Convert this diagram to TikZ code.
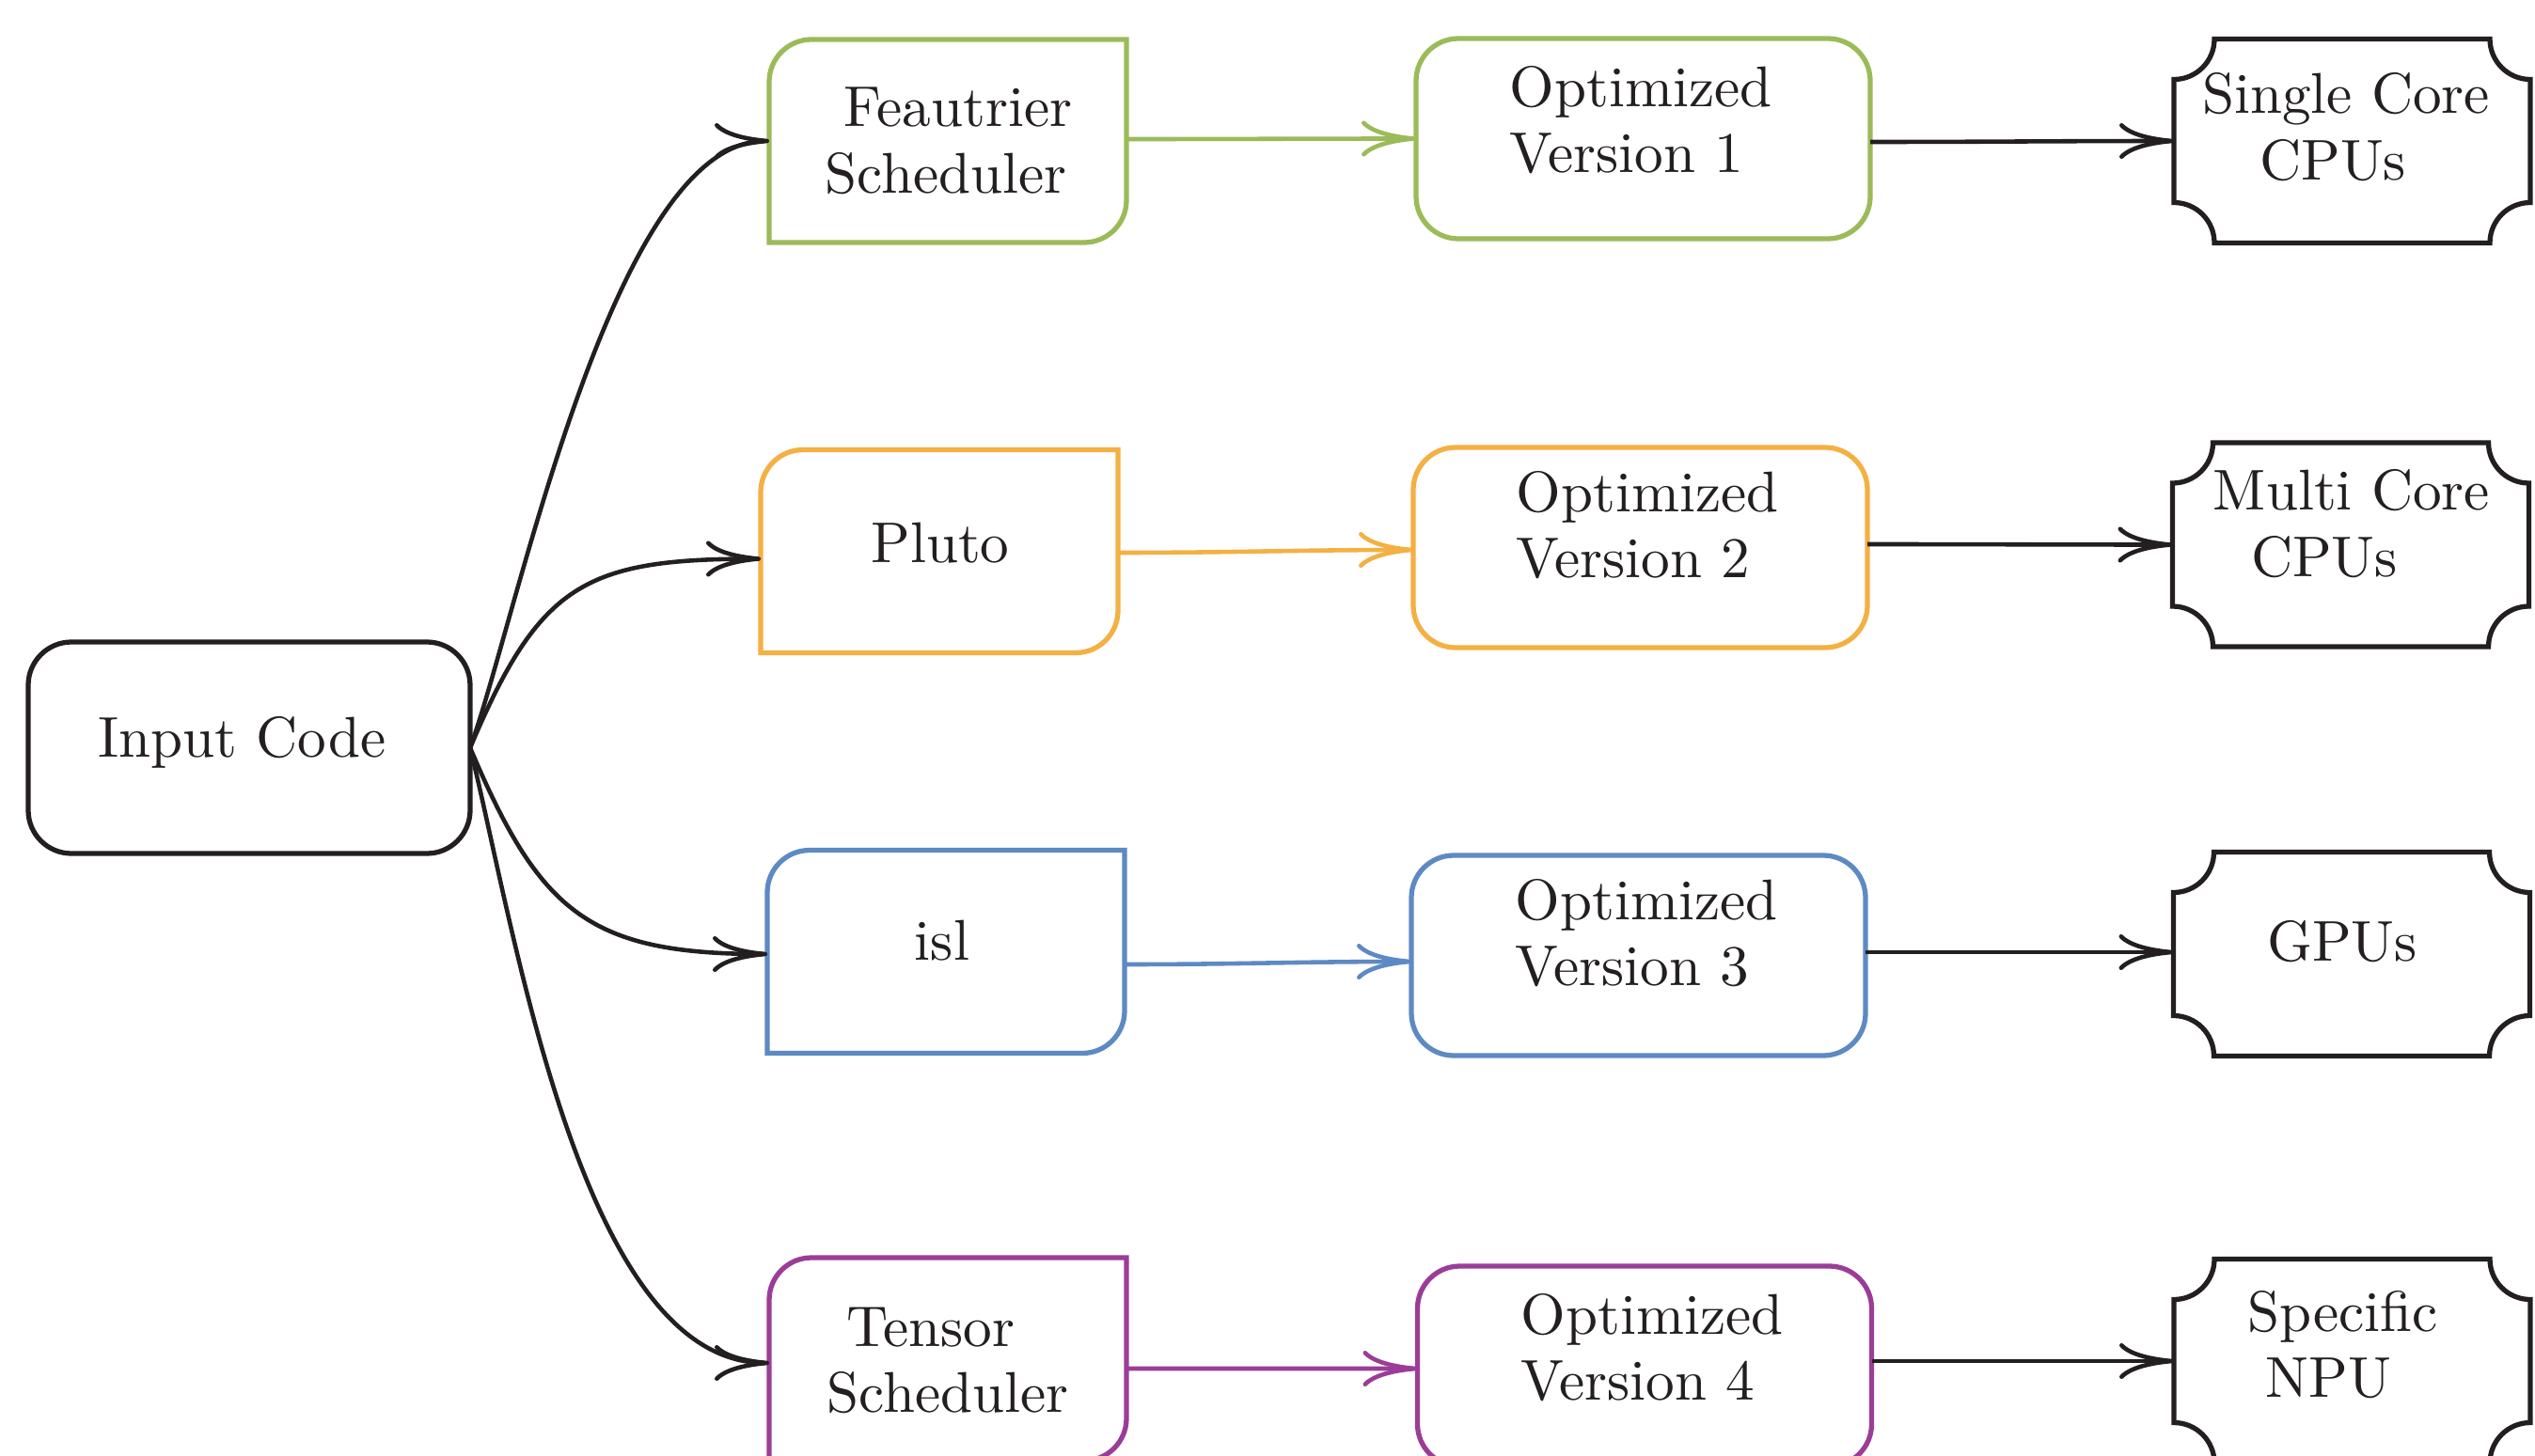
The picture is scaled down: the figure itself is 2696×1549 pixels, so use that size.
\documentclass[tikz,border=0pt]{standalone}
\usepackage{graphicx}
\usetikzlibrary{arrows.meta,calc}

\definecolor{ink}{HTML}{231F20}
\definecolor{cgreen}{HTML}{9BBB59}
\definecolor{corange}{HTML}{F4B042}
\definecolor{cblue}{HTML}{5D8AC2}
\definecolor{cpurple}{HTML}{9B3D98}

\renewcommand\arraystretch{0.954}
% #1 horizontal offset, #2 vertical offset, #3 column alignment, #4 lines
\newcommand\boxtext[4]{\raisebox{#2}[\height][\depth]{\hspace*{#1}\hspace*{#1}\scalebox{1.74}{\begin{tabular}{@{}#3@{}}#4\end{tabular}}}}

% scheduler outline: rounded top-left and bottom-right corners
\newcommand\schedoutline[2]{\draw[line width=1.5pt, #2] (#1.south west) -- ([yshift=-4.5mm]#1.north west) arc[start angle=180,end angle=90,radius=4.5mm] -- (#1.north east) -- ([yshift=4.5mm]#1.south east) arc[start angle=0,end angle=-90,radius=4.5mm] -- cycle;}

% hardware outline: concave quarter-circle corners
\newcommand\hwoutline[1]{\draw[line width=1.5pt, ink] ([xshift=4.3mm]#1.north west) -- ([xshift=-4.3mm]#1.north east) arc[start angle=180,end angle=270,radius=4.3mm] -- ([yshift=4.3mm]#1.south east) arc[start angle=90,end angle=180,radius=4.3mm] -- ([xshift=4.3mm]#1.south west) arc[start angle=0,end angle=90,radius=4.3mm] -- ([yshift=-4.3mm]#1.north west) arc[start angle=270,end angle=360,radius=4.3mm] -- cycle;}

\tikzset{
  base/.style={rectangle, inner sep=0pt, outer sep=0pt, text=ink, line width=1.5pt},
  inbox/.style={base, draw=ink, rounded corners=4.6mm, minimum width=47mm, minimum height=22.5mm},
  schedbox/.style={base, minimum width=38mm, minimum height=21.6mm},
  optbox/.style={base, rounded corners=4.5mm, minimum width=48.3mm, minimum height=21.3mm},
  hwbox/.style={base, minimum width=37.9mm, minimum height=21.7mm},
  link/.style={line width=1.3pt, -{Computer Modern Rightarrow[length=5.8mm,width=3.8mm]}},
}

\begin{document}
\begin{tikzpicture}[x=0.1mm, y=-0.1mm]
\useasboundingbox (0,0) rectangle (2696,1549);
\fill[white] (0,0) rectangle (2696,1549);
\clip (0,0) rectangle (2696,1549);

% input
\node[inbox] (in) at (265,795.5) {\boxtext{-0.75mm}{0.45mm}{c}{Input Code}};

% schedulers
\node[schedbox] (f) at (1008,150) {\boxtext{-0.2mm}{-0.6mm}{c}{\hspace*{1.5mm}Feautrier\\Scheduler}};
\node[schedbox] (p) at (999,586.5) {\boxtext{0.1mm}{0.25mm}{c}{Pluto}};
\node[schedbox] (i) at (1006,1012.5) {\boxtext{-0.4mm}{0.55mm}{c}{isl}};
\node[schedbox] (t) at (1008,1446) {\boxtext{0mm}{-0.7mm}{c}{Tensor\hspace*{2.07mm}\\Scheduler}};
\schedoutline{f}{cgreen}
\schedoutline{p}{corange}
\schedoutline{i}{cblue}
\schedoutline{t}{cpurple}

% optimized versions
\node[optbox, draw=cgreen] (o1) at (1747.5,147.5) {\boxtext{-0.25mm}{1.3mm}{l}{Optimized\\Version 1}};
\node[optbox, draw=corange] (o2) at (1744.5,582.5) {\boxtext{0.75mm}{1.7mm}{l}{Optimized\\Version 2}};
\node[optbox, draw=cblue] (o3) at (1742.5,1016.5) {\boxtext{0.85mm}{1.7mm}{l}{Optimized\\Version 3}};
\node[optbox, draw=cpurple] (o4) at (1749,1453.5) {\boxtext{0.8mm}{1.3mm}{l}{Optimized\\Version 4}};

% hardware targets
\node[hwbox] (h1) at (2501.5,150) {\boxtext{-0.65mm}{0.8mm}{c}{Single Core\\CPUs\hspace*{1.6mm}}};
\node[hwbox] (h2) at (2500,579.5) {\boxtext{0.1mm}{1.55mm}{c}{Multi Core\\CPUs\hspace*{3.33mm}}};
\node[hwbox] (h3) at (2501,1015) {\boxtext{-1.0mm}{0.7mm}{c}{GPUs}};
\node[hwbox] (h4) at (2501.5,1448) {\boxtext{-1.0mm}{1.1mm}{c}{Specific\\NPU\hspace*{1.72mm}}};
\hwoutline{h1}
\hwoutline{h2}
\hwoutline{h3}
\hwoutline{h4}

% input to schedulers
\draw[link, ink] (in.east) .. controls +(50,-137) and +(-167,0) .. (f.west);
\draw[link, ink] (in.east) .. controls +(74,-175) and +(-187,0) .. ($(p.west)+(0,8)$);
\draw[link, ink] (in.east) .. controls +(74,175) and +(-190,0) .. ($(i.west)+(0,2.5)$);
\draw[link, ink] (in.east) .. controls +(48,194) and +(-200,0) .. ($(t.west)+(0,4)$);

% schedulers to optimized versions
\draw[link, cgreen] ($(f.east)+(0,-2)$) to[out=0,in=180] (o1.west);
\draw[link, corange] ($(p.east)+(0,1.5)$) to[out=0,in=180] ($(o2.west)+(0,2.5)$);
\draw[link, cblue] ($(i.east)+(0,13.5)$) to[out=0,in=180] ($(o3.west)+(0,6.5)$);
\draw[link, cpurple] ($(t.east)+(0,10)$) to[out=0,in=180] ($(o4.west)+(0,2.5)$);

% optimized versions to hardware
\draw[link, ink] ($(o1.east)+(0,3.5)$) to[out=0,in=180] (h1.west);
\draw[link, ink] ($(o2.east)+(0,-3.5)$) to[out=0,in=180] (h2.west);
\draw[link, ink] ($(o3.east)+(0,-3.5)$) to[out=0,in=180] ($(h3.west)+(0,-2)$);
\draw[link, ink] ($(o4.east)+(0,-5.5)$) to[out=0,in=180] (h4.west);
\end{tikzpicture}
\end{document}
